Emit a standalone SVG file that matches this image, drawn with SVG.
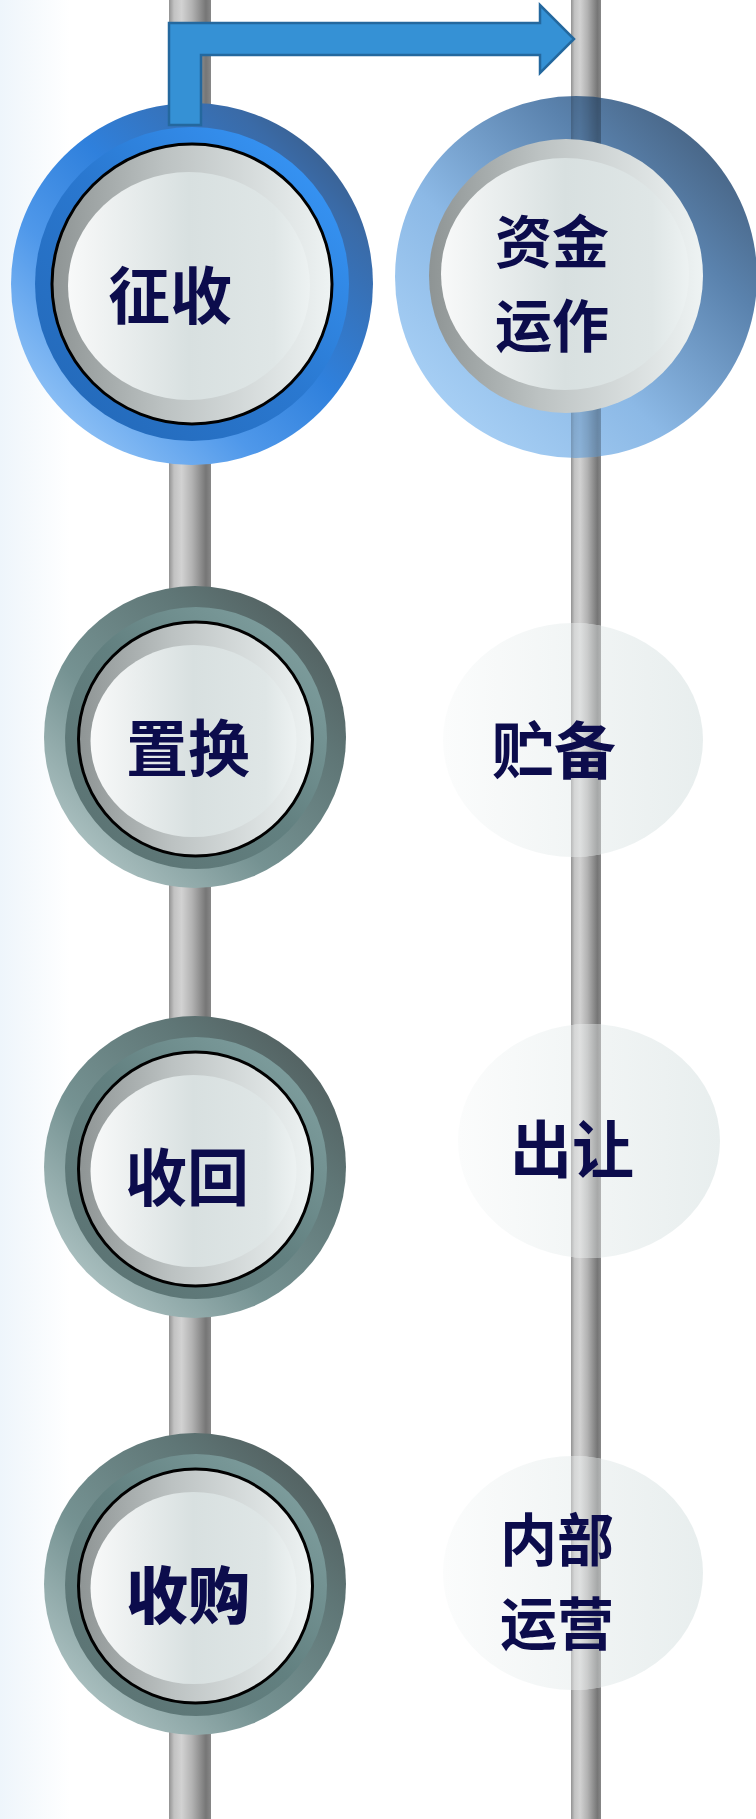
<svg xmlns="http://www.w3.org/2000/svg" width="756" height="1819" viewBox="0 0 756 1819">
<style>
.lbl{font-family:"Noto Sans CJK SC","Noto Sans CJK TC",sans-serif;font-weight:700;font-size:62px;fill:#0c0c4c;text-anchor:middle;dominant-baseline:central}
.two{font-size:57px}
.blk{fill:url(#bevel);stroke:#000;stroke-width:3}
.disc{fill:url(#disc)}
.gout{fill:url(#grayOut)}
.gin{fill:url(#grayIn)}
.faint{fill:url(#faint)}
</style>
<defs>
<linearGradient id="bg" x1="0" y1="0" x2="1" y2="0"><stop offset="0" stop-color="#eef5fb"/><stop offset="1" stop-color="#ffffff"/></linearGradient>
<linearGradient id="pole" x1="0" y1="0" x2="1" y2="0"><stop offset="0" stop-color="#929292"/><stop offset="0.12" stop-color="#c2c2c2"/><stop offset="0.3" stop-color="#d2d2d2"/><stop offset="0.55" stop-color="#b2b2b2"/><stop offset="0.88" stop-color="#767676"/><stop offset="1" stop-color="#888888"/></linearGradient>
<linearGradient id="blueOut" x1="0" y1="1" x2="1" y2="0"><stop offset="0" stop-color="#b2d8fc"/><stop offset="0.35" stop-color="#4f98ea"/><stop offset="0.55" stop-color="#2f80dc"/><stop offset="0.8" stop-color="#3a6ba8"/><stop offset="1" stop-color="#3a4e68"/></linearGradient>
<linearGradient id="blueIn" x1="0" y1="1" x2="1" y2="0"><stop offset="0" stop-color="#2266b4"/><stop offset="0.5" stop-color="#2a78d0"/><stop offset="1" stop-color="#3a9cff"/></linearGradient>
<linearGradient id="blue2" x1="0" y1="1" x2="1" y2="0"><stop offset="0" stop-color="#b4dafc"/><stop offset="0.4" stop-color="#8cb9e6"/><stop offset="0.7" stop-color="#5a82ad"/><stop offset="1" stop-color="#3a4f68"/></linearGradient>
<linearGradient id="grayOut" x1="0" y1="1" x2="1" y2="0"><stop offset="0" stop-color="#c4d6d6"/><stop offset="0.4" stop-color="#759292"/><stop offset="0.7" stop-color="#5f7676"/><stop offset="1" stop-color="#4a5252"/></linearGradient>
<linearGradient id="grayIn" x1="0" y1="1" x2="1" y2="0"><stop offset="0" stop-color="#5a7070"/><stop offset="0.5" stop-color="#628080"/><stop offset="1" stop-color="#86a6a6"/></linearGradient>
<linearGradient id="bevel" x1="0" y1="0" x2="1" y2="0"><stop offset="0" stop-color="#8e9494"/><stop offset="0.4" stop-color="#bcc2c2"/><stop offset="1" stop-color="#eef3f3"/></linearGradient>
<linearGradient id="disc" x1="0" y1="0" x2="1" y2="0"><stop offset="0" stop-color="#f8f9f9"/><stop offset="0.5" stop-color="#d8e0e0"/><stop offset="0.85" stop-color="#dfe6e6"/><stop offset="1" stop-color="#edf2f2"/></linearGradient>
<linearGradient id="faint" x1="0" y1="0" x2="1" y2="0"><stop offset="0" stop-color="#fbfcfc"/><stop offset="1" stop-color="#e8eeee"/></linearGradient>
<clipPath id="c2"><circle cx="576" cy="277" r="181"/></clipPath>
<clipPath id="c4"><ellipse cx="573" cy="740" rx="130" ry="117"/></clipPath>
<clipPath id="c6"><ellipse cx="589" cy="1141" rx="131" ry="117"/></clipPath>
<clipPath id="c8"><ellipse cx="573" cy="1573" rx="130" ry="117"/></clipPath>
</defs>
<rect x="0" y="0" width="756" height="1819" fill="#ffffff"/>
<rect x="0" y="0" width="70" height="1819" fill="url(#bg)"/>
<g id="poles">
<rect x="169" y="0" width="42" height="1819" fill="url(#pole)"/>
<rect x="571" y="0" width="30" height="1819" fill="url(#pole)"/>
</g>
<g id="node-zhengshou">
<circle cx="192" cy="284" r="181" fill="url(#blueOut)"/>
<circle cx="192" cy="284" r="157" fill="url(#blueIn)"/>
<circle cx="192" cy="284" r="140" class="blk"/>
<ellipse cx="189" cy="286" rx="121" ry="114" class="disc"/>
<text x="170" y="292" class="lbl">征收</text>
</g>
<g id="node-zijinyunzuo">
<circle cx="576" cy="277" r="181" fill="url(#blue2)"/>
<rect x="571" y="0" width="30" height="500" fill="url(#pole)" clip-path="url(#c2)" opacity="0.55" style="mix-blend-mode:multiply"/>
<circle cx="566" cy="276" r="137" fill="url(#bevel)"/>
<ellipse cx="565" cy="274" rx="124" ry="116" class="disc"/>
<text class="lbl two"><tspan x="552" y="238">资金</tspan><tspan x="552" y="322">运作</tspan></text>
</g>
<g id="node-zhihuan">
<circle cx="195" cy="737" r="151" class="gout"/>
<circle cx="196" cy="738" r="131" class="gin"/>
<circle cx="195.5" cy="739" r="117" class="blk"/>
<ellipse cx="193.5" cy="741" rx="103" ry="96" class="disc"/>
<text x="188" y="745" class="lbl">置换</text>
</g>
<g id="node-zhubei">
<ellipse cx="573" cy="740" rx="130" ry="117" class="faint"/>
<rect x="571" y="600" width="30" height="280" fill="url(#pole)" clip-path="url(#c4)" opacity="0.6"/>
<text x="554" y="747" class="lbl">贮备</text>
</g>
<g id="node-shouhui">
<circle cx="195" cy="1167" r="151" class="gout"/>
<circle cx="196" cy="1168" r="131" class="gin"/>
<circle cx="195.5" cy="1169" r="117" class="blk"/>
<ellipse cx="193.5" cy="1171" rx="103" ry="96" class="disc"/>
<text x="187" y="1174" class="lbl">收回</text>
</g>
<g id="node-churang">
<ellipse cx="589" cy="1141" rx="131" ry="117" class="faint"/>
<rect x="571" y="1000" width="30" height="280" fill="url(#pole)" clip-path="url(#c6)" opacity="0.6"/>
<text x="572" y="1146" class="lbl">出让</text>
</g>
<g id="node-shougou">
<circle cx="195" cy="1584" r="151" class="gout"/>
<circle cx="196" cy="1585" r="131" class="gin"/>
<circle cx="195.5" cy="1586" r="117" class="blk"/>
<ellipse cx="193.5" cy="1588" rx="103" ry="96" class="disc"/>
<text x="188" y="1592" class="lbl" style="font-weight:900">收购</text>
</g>
<g id="node-neibuyunying">
<ellipse cx="573" cy="1573" rx="130" ry="117" class="faint"/>
<rect x="571" y="1430" width="30" height="280" fill="url(#pole)" clip-path="url(#c8)" opacity="0.6"/>
<text class="lbl two"><tspan x="557" y="1536">内部</tspan><tspan x="557" y="1620">运营</tspan></text>
</g>
<g id="connectors">
<path d="M169,125 L169,23 L540,23 L540,5 L574,39 L540,73 L540,55 L201,55 L201,125 Z" fill="#3591d5" stroke="#24689e" stroke-width="2.5" stroke-linejoin="miter"/>
</g>
</svg>
